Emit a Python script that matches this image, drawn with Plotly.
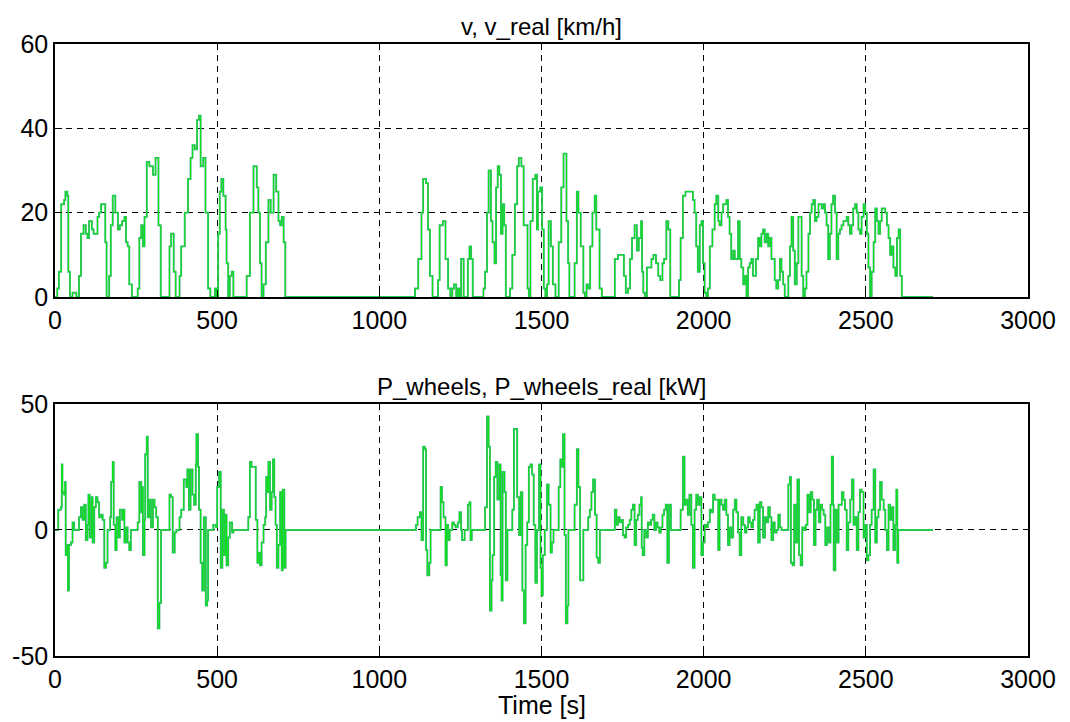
import plotly.graph_objects as go

# ---- speed v / v_real [km/h]: breakpoints (time s, value) ----
speed_t = [0, 7, 12, 19, 28, 32, 38, 41, 46, 54, 66, 74, 80, 88, 95, 100, 105, 114, 119, 131, 136, 142, 155, 159,
           167, 172, 178, 186, 194, 200, 207, 214, 219, 224, 229, 237, 255, 260, 266, 271, 276, 283, 291, 302, 310,
           319, 326, 353, 358, 366, 372, 384, 389, 400, 410, 418, 424, 431, 438, 444, 449, 457, 464, 472, 479, 493,
           498, 503, 508, 513, 519, 526, 529, 534, 539, 545, 550, 591, 601, 612, 622, 627, 632, 637, 643, 650, 658,
           665, 674, 682, 689, 694, 699, 705, 710,
           1110, 1120, 1130, 1135, 1144, 1150, 1156, 1164, 1181, 1186, 1196, 1204, 1212, 1219, 1225, 1230, 1237,
           1242, 1247, 1252, 1260, 1273, 1278, 1283, 1288, 1321, 1326, 1332, 1337, 1344, 1349, 1355, 1360, 1365,
           1370, 1375, 1380, 1385, 1390, 1403, 1410, 1418, 1425, 1430, 1438, 1445, 1457, 1461, 1466, 1473, 1481,
           1486, 1489, 1496, 1502, 1507, 1512, 1517, 1522, 1529, 1535, 1543, 1553, 1561, 1568, 1577, 1582, 1586,
           1602, 1609, 1614, 1621, 1629, 1634, 1639, 1644, 1650, 1657, 1664, 1669, 1679, 1686, 1726, 1736, 1754,
           1760, 1767, 1773, 1779, 1787, 1794, 1800, 1807, 1810, 1814, 1819, 1825, 1839, 1845, 1853, 1860, 1866,
           1873, 1878, 1885, 1891, 1897, 1924, 1929, 1936, 1944, 1957, 1967, 1972, 1977, 1982, 1988, 1993, 1998,
           2003, 2008, 2013, 2019, 2027, 2034, 2039, 2045, 2049, 2055, 2060, 2070, 2075, 2080, 2085, 2091, 2096,
           2106, 2111, 2116, 2122, 2127, 2132, 2137, 2142, 2147, 2152, 2161, 2168, 2173, 2178, 2183, 2188, 2194,
           2199, 2204, 2209, 2219, 2224, 2230, 2235, 2240, 2245, 2250, 2261, 2266, 2271, 2276, 2281, 2287, 2292,
           2302, 2307, 2312, 2317, 2323, 2328, 2333, 2338, 2343, 2348, 2354, 2364, 2369, 2374, 2379, 2384, 2389,
           2394, 2399, 2405, 2410, 2415, 2420, 2425, 2431, 2441, 2446, 2451, 2456, 2461, 2467, 2472, 2477, 2482,
           2487, 2493, 2498, 2503, 2508, 2513, 2518, 2524, 2529, 2534, 2539, 2544, 2549, 2560, 2565, 2570, 2575,
           2580, 2585, 2591, 2596, 2601, 2606, 2611, 2707]
speed_v = [0, 2, 6, 22, 23, 25, 24, 6, 0, 1, 0, 5, 15, 17, 15, 14, 18, 16, 15, 19, 20, 22, 13, 0,
           5, 17, 24, 20, 16, 17, 18, 19, 13, 12, 3, 0, 2, 14, 17, 12, 19, 32, 31, 29, 33,
           17, 0, 12, 15, 6, 0, 5, 12, 20, 28, 33, 36, 35, 42, 43, 31, 33, 20, 2, 0, 2,
           0, 15, 25, 28, 24, 16, 8, 0, 5, 6, 0, 5, 20, 31, 26, 20, 8, 0, 3, 13, 23,
           20, 29, 25, 18, 17, 19, 13, 0,
           2, 9, 20, 28, 27, 16, 5, 0, 4, 17, 18, 9, 2, 0, 2, 3, 0,
           2, 0, 9, 0, 9, 12, 9, 0, 2, 6, 20, 30, 18, 13, 8, 26, 31,
           29, 15, 22, 17, 0, 2, 10, 22, 31, 33, 31, 17, 2, 0, 18, 28, 29,
           16, 25, 26, 16, 2, 0, 3, 18, 12, 3, 0, 13, 26, 34, 18, 8, 0,
           8, 25, 20, 12, 1, 0, 3, 2, 12, 20, 24, 16, 2, 0, 9, 10, 5,
           1, 2, 9, 14, 17, 11, 14, 18, 6, 1, 0, 7, 9, 10, 8, 5, 4,
           8, 9, 18, 16, 0, 4, 14, 24, 25, 25, 23, 20, 12, 6, 17, 18, 8,
           1, 0, 2, 12, 16, 22, 24, 18, 17, 20, 22, 23, 19, 15, 9, 11, 9,
           18, 9, 7, 3, 5, 0, 7, 8, 9, 5, 9, 14, 12, 15, 16, 13, 15,
           12, 14, 9, 4, 2, 4, 9, 6, 3, 0, 5, 12, 19, 11, 3, 8, 19,
           5, 0, 2, 6, 15, 20, 22, 23, 18, 19, 22, 21, 22, 20, 17, 9, 15,
           22, 24, 20, 9, 15, 16, 17, 18, 19, 17, 15, 17, 21, 22, 20, 16, 15,
           19, 22, 20, 15, 7, 0, 6, 13, 21, 18, 15, 18, 21, 20, 17, 14, 10,
           12, 7, 5, 14, 16, 5, 0, 0]

# ---- power P_wheels / P_wheels_real [kW]: breakpoints (time s, value) ----
power_t = [0, 10, 18, 21, 23, 28, 31, 33, 38, 40, 43, 49, 54, 59, 74, 80, 85, 90, 95, 100, 103, 107, 113, 116, 121,
           126, 131, 136, 142, 147, 152, 157, 162, 170, 173, 178, 181, 186, 190, 196, 200, 207, 211, 214, 219, 224,
           229, 234, 255, 260, 266, 269, 271, 276, 278, 283, 286, 291, 296, 302, 307, 312, 317, 322, 327, 353, 358,
           363, 369, 374, 384, 389, 397, 405, 408, 413, 418, 424, 429, 434, 436, 441, 444, 449, 454, 459, 465, 469,
           472, 488, 496, 500, 506, 511, 516, 521, 526, 529, 534, 539, 546, 550, 596, 601, 606, 619, 624, 627, 632,
           637, 643, 648, 651, 655, 658, 663, 668, 672, 676, 680, 684, 689, 694, 699, 702, 707, 711,
           1113, 1118, 1125, 1130, 1135, 1140, 1144, 1148, 1154, 1158, 1189, 1193, 1198, 1204, 1208, 1212, 1217,
           1225, 1230, 1235, 1242, 1247, 1252, 1255, 1263, 1273, 1278, 1281, 1285, 1326, 1332, 1337, 1341, 1346,
           1349, 1354, 1359, 1364, 1370, 1374, 1377, 1380, 1386, 1390, 1395, 1410, 1415, 1420, 1425, 1431, 1436,
           1441, 1446, 1451, 1456, 1461, 1466, 1471, 1476, 1481, 1486, 1492, 1497, 1500, 1504, 1510, 1517, 1522,
           1528, 1532, 1537, 1553, 1558, 1563, 1566, 1571, 1575, 1580, 1583, 1602, 1609, 1614, 1619, 1629, 1644,
           1649, 1654, 1659, 1665, 1670, 1675, 1680, 1726, 1731, 1736, 1741, 1746, 1751, 1756, 1761, 1767, 1772,
           1777, 1782, 1787, 1792, 1797, 1802, 1807, 1809, 1812, 1817, 1822, 1828, 1833, 1838, 1843, 1848, 1853,
           1858, 1863, 1868, 1873, 1878, 1883, 1888, 1893, 1899, 1929, 1936, 1941, 1946, 1951, 1956, 1962, 1967,
           1972, 1977, 1982, 1988, 1993, 1998, 2003, 2008, 2013, 2019, 2024, 2029, 2034, 2045, 2049, 2055, 2060,
           2065, 2070, 2075, 2080, 2085, 2091, 2096, 2101, 2106, 2111, 2116, 2122, 2127, 2132, 2137, 2142, 2147,
           2152, 2157, 2163, 2168, 2173, 2178, 2183, 2189, 2194, 2199, 2204, 2209, 2214, 2219, 2225, 2230, 2235,
           2240, 2261, 2266, 2269, 2274, 2279, 2284, 2289, 2294, 2299, 2304, 2310, 2315, 2320, 2325, 2330, 2335,
           2340, 2345, 2350, 2355, 2360, 2365, 2370, 2375, 2380, 2386, 2391, 2395, 2399, 2401, 2406, 2411, 2416,
           2426, 2431, 2436, 2441, 2446, 2452, 2457, 2462, 2467, 2472, 2477, 2482, 2487, 2493, 2498, 2503, 2508,
           2513, 2518, 2524, 2529, 2534, 2539, 2544, 2549, 2555, 2560, 2565, 2570, 2575, 2580, 2585, 2590, 2594,
           2597, 2600, 2707]
power_v = [0, 8, 9, 26, 15, 14, 19, -10, -6, -24, -6, -5, 3, 0, 5, 9, 4, 10, -4, 2, 14, -3, 13, -5, 9,
           13, 11, 5, 6, 4, -15, -13, 0, 5, 19, 27, 2, -8, 5, -3, 8, 4, 8, -5, 1, -5,
           -8, 0, 3, 19, 7, 17, -10, 4, 30, 37, 5, 12, 1, 12, 9, 5, -39, -29, 0, 14, 13,
           -9, -1, 0, 5, 8, 20, 17, 24, 8, 24, 14, 10, 26, 38, 25, 8, -13, -24, 5, -30, -28,
           0, 2, 1, 17, 23, -15, 8, -10, 6, -14, -3, 3, -1, 0, 5, 27, 25, 4, -13, -9, -14,
           -5, 2, 5, 21, 15, 27, 8, 15, 28, 13, 2, -15, -6, 15, -16, 16, -15, 0,
           2, 5, 7, -4, 33, 32, -8, -18, -13, 0, 17, 11, 5, -14, 2, -4, 0,
           3, 2, 1, 3, 7, 0, -4, 0, 10, 11, -4, 0, 9, 45, 33, -32, -20,
           -10, 21, 27, 12, 26, -18, -28, 23, 15, -20, 0, 8, 40, 40, 13, -2, 15,
           -24, -37, -6, 3, 25, 26, 22, 2, -21, 0, 26, -15, -26, -10, 0, 18, 10,
           -9, -5, 0, 17, 28, 25, 38, -2, -37, -30, 0, 10, 32, 17, -20, 0, 5,
           8, 15, 20, 6, -11, -13, 0, 8, 2, 5, 3, 4, -2, -3, 1, 2, 4,
           8, 10, -6, 4, 6, 10, 13, -7, -10, 0, -3, 3, 2, 4, 6, 0, 3,
           1, -1, 1, 6, 8, 10, -13, 10, 0, 8, 29, 10, 12, 6, 14, 2, -15,
           8, 14, 10, 13, -10, -5, 2, 1, 3, 8, 7, 14, 12, -8, 12, 10, 8,
           12, 6, -6, 1, -3, 8, 12, 7, -1, -10, 5, 2, -1, 1, 5, 3, 1,
           4, 8, 10, -5, 11, 9, -3, 5, 3, 9, 5, -4, 3, -1, 0, 6, 1,
           0, 18, 21, -13, -14, 10, -5, 20, -10, -14, 1, 0, 2, 14, 7, 15, 12,
           -6, 8, 12, 3, 10, 8, 6, -6, 1, -5, 10, 29, 10, -16, 8, -5, 10,
           15, 12, 8, -8, 3, 12, 20, 2, 5, -8, 7, 16, 15, -3, 2, -12, -10,
           2, 8, 24, -5, 5, 8, 19, 12, 8, 0, -8, 10, 4, 9, -8, 2, 16,
           -13, 0, 0]

x_ticks = [0, 500, 1000, 1500, 2000, 2500, 3000]
x_tick_labels = ["0", "500", "1000", "1500", "2000", "2500", "3000"]
speed_ticks = [0, 20, 40, 60]
speed_tick_labels = ["0", "20", "40", "60"]
power_ticks = [-50, 0, 50]
power_tick_labels = ["-50", "0", "50"]

V_COLOR = "rgb(70,175,140)"      # v (blue, rendered blended under green)
VR_COLOR = "rgb(0,235,0)"        # v_real (green)
FONT = "Liberation Sans, Arial, sans-serif"
TICK_SIZE = 25
TITLE_SIZE = 24

fig = go.Figure()
fig.add_trace(go.Scatter(x=speed_t, y=speed_v, mode="lines", line=dict(color=V_COLOR, width=1.9, shape="hv"),
                         xaxis="x", yaxis="y", name="v", showlegend=False))
fig.add_trace(go.Scatter(x=speed_t, y=speed_v, mode="lines", line=dict(color=VR_COLOR, width=0.9, shape="hv"),
                         xaxis="x", yaxis="y", name="v_real", showlegend=False))
fig.add_trace(go.Scatter(x=power_t, y=power_v, mode="lines", line=dict(color=V_COLOR, width=1.9, shape="hv"),
                         xaxis="x2", yaxis="y2", name="P_wheels", showlegend=False))
fig.add_trace(go.Scatter(x=power_t, y=power_v, mode="lines", line=dict(color=VR_COLOR, width=0.9, shape="hv"),
                         xaxis="x2", yaxis="y2", name="P_wheels_real", showlegend=False))

axis_common = dict(showline=True, linecolor="black", linewidth=1.5, mirror=True,
                   ticks="inside", ticklen=7, tickcolor="black",
                   showgrid=True, gridcolor="black", gridwidth=1, griddash="6px,5px",
                   zeroline=False, automargin=False,
                   tickfont=dict(family=FONT, size=TICK_SIZE, color="black"))

fig.update_layout(
    width=1062, height=714,
    paper_bgcolor="white", plot_bgcolor="white",
    margin=dict(l=47, r=42, t=36, b=66),
    font=dict(family=FONT, color="black"),
    xaxis=dict(domain=[0, 1], range=[0, 3000], tickvals=x_ticks, ticktext=x_tick_labels, anchor="y",
               **axis_common),
    yaxis=dict(domain=[0.5866, 1], range=[0, 60], tickvals=speed_ticks, ticktext=speed_tick_labels,
               anchor="x", **axis_common),
    xaxis2=dict(domain=[0, 1], range=[0, 3000], tickvals=x_ticks, ticktext=x_tick_labels, anchor="y2",
                **axis_common),
    yaxis2=dict(domain=[0, 0.412], range=[-50, 50], tickvals=power_ticks, ticktext=power_tick_labels,
                anchor="x2", **axis_common),
    annotations=[
        dict(text="v, v_real [km/h]", x=0.5, y=1, xref="paper", yref="paper", xanchor="center",
             yanchor="bottom", yshift=2, showarrow=False,
             font=dict(family=FONT, size=TITLE_SIZE, color="black")),
        dict(text="P_wheels, P_wheels_real [kW]", x=0.5, y=0.412, xref="paper", yref="paper",
             xanchor="center", yanchor="bottom", yshift=2, showarrow=False,
             font=dict(family=FONT, size=TITLE_SIZE, color="black")),
        dict(text="Time [s]", x=0.5, y=0, xref="paper", yref="paper", xanchor="center",
             yanchor="top", yshift=-33, showarrow=False,
             font=dict(family=FONT, size=TICK_SIZE, color="black")),
    ],
)

fig.write_html("out.html")
